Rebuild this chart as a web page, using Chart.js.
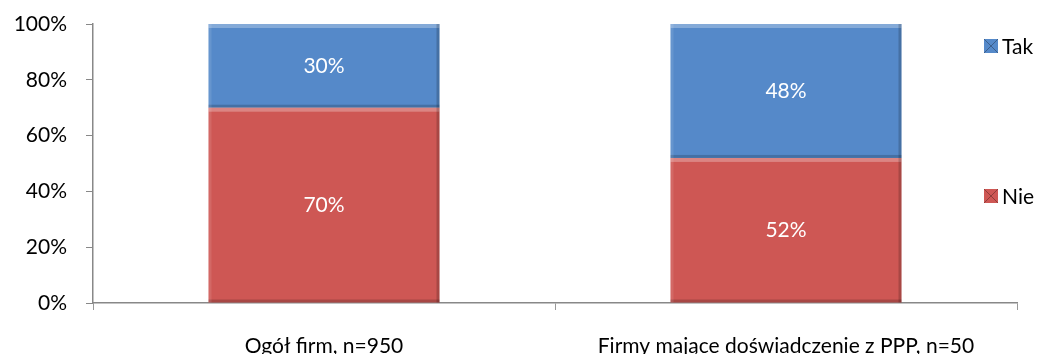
<!DOCTYPE html>
<html><head><meta charset="utf-8">
<script src="https://cdn.jsdelivr.net/npm/chart.js@4/dist/chart.umd.min.js"></script>
<style>html,body{margin:0;padding:0;background:#fff}#wrap{width:1046px;height:354px}</style>
</head><body><div id="wrap"><canvas id="c" width="1046" height="354"></canvas></div>
<script>
const categories = ["Ogół firm, n=950", "Firmy mające doświadczenie z PPP, n=50"];
const nieValues = [70, 52];
const takValues = [30, 48];
const seriesNames = ["Nie", "Tak"];
const yTicks = [0, 20, 40, 60, 80, 100];

const FONT = "Lato, 'Open Sans', sans-serif";
const FS = 21;
const BLUE = '#5589C9', RED = '#CE5754';

const labelPlugin = {
  id: 'labels',
  afterDatasetsDraw(chart) {
    const ctx = chart.ctx;
    ctx.save();
    chart.data.datasets.forEach((ds, i) => {
      const meta = chart.getDatasetMeta(i);
      meta.data.forEach((bar, j) => {
        const {x, y, base, width} = bar.getProps(['x','y','base','width'], true);
        const l = x - width/2, r = x + width/2, t = Math.min(y, base), b = Math.max(y, base);
        // bevel
        ctx.fillStyle = 'rgba(255,255,255,0.28)';
        ctx.fillRect(l, t, width, 4);
        ctx.fillStyle = 'rgba(0,0,0,0.18)';
        ctx.fillRect(r - 3, t, 3, b - t);
        ctx.fillRect(l, b - 3, width, 3);
        ctx.fillStyle = 'rgba(255,255,255,0.10)';
        ctx.fillRect(l, t, 3, b - t);
        ctx.font = FS + 'px ' + FONT;
        ctx.fillStyle = '#ffffff';
        ctx.textAlign = 'center';
        ctx.textBaseline = 'middle';
        ctx.fillText(ds.data[j] + '%', x, (t + b) / 2);
      });
    });
    // legend
    const items = [{name: seriesNames[1], color: BLUE, y: 46}, {name: seriesNames[0], color: RED, y: 196}];
    items.forEach(it => {
      ctx.fillStyle = it.color;
      ctx.fillRect(984, it.y - 7, 14, 14);
      ctx.strokeStyle = 'rgba(0,0,0,0.3)';
      ctx.lineWidth = 1;
      ctx.beginPath();
      ctx.moveTo(984, it.y - 7); ctx.lineTo(998, it.y + 7);
      ctx.moveTo(998, it.y - 7); ctx.lineTo(984, it.y + 7);
      ctx.stroke();
      ctx.font = FS + 'px ' + FONT;
      ctx.fillStyle = '#000';
      ctx.textAlign = 'left';
      ctx.textBaseline = 'middle';
      ctx.fillText(it.name, 1002, it.y + 1);
    });
    ctx.restore();
  }
};

new Chart(document.getElementById('c'), {
  type: 'bar',
  data: {
    labels: categories,
    datasets: [
      {label: seriesNames[0], data: nieValues, backgroundColor: RED, borderWidth: 0},
      {label: seriesNames[1], data: takValues, backgroundColor: BLUE, borderWidth: 0}
    ]
  },
  options: {
    responsive: false,
    animation: false,
    layout: {padding: {top: 24, right: 29, left: 0, bottom: 0}},
    plugins: {legend: {display: false}, tooltip: {enabled: false}},
    datasets: {bar: {categoryPercentage: 1, barPercentage: 0.5}},
    scales: {
      x: {
        stacked: true,
        afterFit(s) { s.height = 51; s.paddingLeft = 0; s.paddingRight = 0; },
        grid: {drawOnChartArea: false, drawTicks: true, tickLength: 7, color: '#999', offset: true},
        border: {color: '#888', width: 1.5},
        ticks: {color: '#000', font: {family: FONT, size: FS}, padding: 24, maxRotation: 0}
      },
      y: {
        stacked: true,
        min: 0, max: 100,
        afterFit(s) { s.width = 93; s.paddingTop = 0; s.paddingBottom = 0; },
        afterBuildTicks(s) { s.ticks = yTicks.map(v => ({value: v})); },
        grid: {drawOnChartArea: false, drawTicks: true, tickLength: 7, color: '#888'},
        border: {color: '#888', width: 1.5},
        ticks: {color: '#000', font: {family: FONT, size: FS}, padding: 19, callback: v => v + '%'}
      }
    }
  },
  plugins: [labelPlugin]
});
</script>
</body></html>
